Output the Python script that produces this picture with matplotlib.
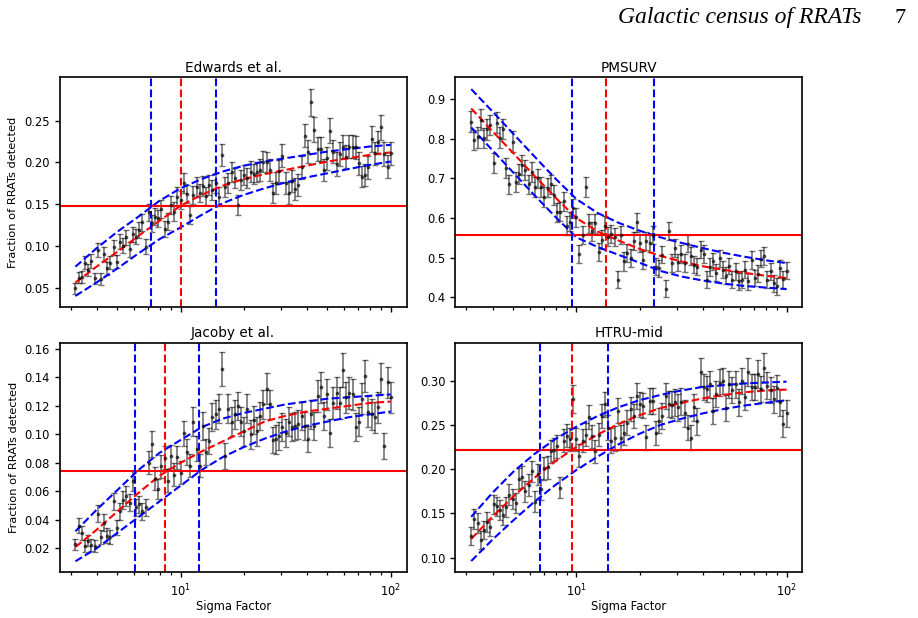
import matplotlib.pyplot as plt

# sigma factor grid (evenly spaced in log)
sigma = [3.162, 3.275, 3.391, 3.511, 3.636, 3.765, 3.899, 4.037, 4.181, 4.329,
         4.483, 4.642, 4.807, 4.977, 5.154, 5.337, 5.526, 5.722, 5.925, 6.136,
         6.353, 6.579, 6.813, 7.055, 7.305, 7.565, 7.833, 8.111, 8.399, 8.697,
         9.006, 9.326, 9.657, 10.00, 10.35, 10.72, 11.10, 11.50, 11.91, 12.33,
         12.77, 13.22, 13.69, 14.18, 14.68, 15.20, 15.74, 16.30, 16.88, 17.48,
         18.10, 18.74, 19.41, 20.09, 20.81, 21.54, 22.31, 23.10, 23.92, 24.77,
         25.65, 26.56, 27.50, 28.48, 29.49, 30.54, 31.62, 32.75, 33.91, 35.11,
         36.36, 37.65, 38.99, 40.37, 41.81, 43.29, 44.83, 46.42, 48.07, 49.77,
         51.54, 53.37, 55.26, 57.22, 59.25, 61.36, 63.53, 65.79, 68.13, 70.55,
         73.05, 75.65, 78.33, 81.11, 83.99, 86.97, 90.06, 93.26, 96.57, 100.0]

edwards = [0.049, 0.062, 0.063, 0.080, 0.071, 0.082, 0.061, 0.095, 0.060, 0.090,
           0.073, 0.080, 0.098, 0.081, 0.105, 0.100, 0.110, 0.096, 0.114, 0.111,
           0.119, 0.128, 0.099, 0.140, 0.127, 0.135, 0.133, 0.144, 0.120, 0.129,
           0.149, 0.141, 0.159, 0.155, 0.175, 0.162, 0.137, 0.161, 0.171, 0.163,
           0.172, 0.160, 0.173, 0.167, 0.175, 0.159, 0.209, 0.171, 0.175, 0.188,
           0.181, 0.149, 0.179, 0.185, 0.181, 0.189, 0.186, 0.188, 0.191, 0.201,
           0.200, 0.191, 0.163, 0.175, 0.190, 0.208, 0.175, 0.163, 0.178, 0.168,
           0.173, 0.194, 0.232, 0.213, 0.272, 0.239, 0.216, 0.216, 0.191, 0.205,
           0.238, 0.213, 0.198, 0.210, 0.219, 0.207, 0.219, 0.219, 0.218, 0.199,
           0.183, 0.185, 0.194, 0.228, 0.211, 0.224, 0.242, 0.210, 0.195, 0.211]
edwards_err = [0.007, 0.007, 0.007, 0.008, 0.007, 0.008, 0.007, 0.008, 0.007, 0.008,
               0.008, 0.008, 0.009, 0.008, 0.009, 0.009, 0.009, 0.009, 0.009, 0.009,
               0.010, 0.010, 0.009, 0.010, 0.010, 0.010, 0.010, 0.011, 0.010, 0.010,
               0.011, 0.011, 0.011, 0.011, 0.012, 0.011, 0.011, 0.011, 0.012, 0.011,
               0.012, 0.011, 0.012, 0.012, 0.012, 0.011, 0.013, 0.012, 0.012, 0.012,
               0.012, 0.012, 0.012, 0.012, 0.012, 0.013, 0.012, 0.012, 0.013, 0.013,
               0.013, 0.013, 0.012, 0.013, 0.013, 0.014, 0.013, 0.013, 0.013, 0.013,
               0.013, 0.014, 0.014, 0.014, 0.016, 0.015, 0.014, 0.014, 0.013, 0.014,
               0.015, 0.014, 0.014, 0.014, 0.014, 0.014, 0.014, 0.014, 0.014, 0.014,
               0.013, 0.013, 0.014, 0.015, 0.014, 0.014, 0.015, 0.014, 0.014, 0.014]

pmsurv = [0.844, 0.797, 0.804, 0.849, 0.802, 0.824, 0.835, 0.740, 0.841, 0.803,
          0.825, 0.726, 0.685, 0.793, 0.692, 0.711, 0.734, 0.722, 0.685, 0.716,
          0.679, 0.700, 0.679, 0.654, 0.677, 0.685, 0.658, 0.615, 0.616, 0.642,
          0.581, 0.591, 0.625, 0.602, 0.509, 0.557, 0.679, 0.587, 0.566, 0.587,
          0.515, 0.545, 0.580, 0.553, 0.559, 0.552, 0.444, 0.557, 0.490, 0.511,
          0.498, 0.541, 0.589, 0.536, 0.494, 0.541, 0.536, 0.557, 0.477, 0.473,
          0.507, 0.421, 0.567, 0.486, 0.524, 0.488, 0.509, 0.486, 0.535, 0.504,
          0.482, 0.477, 0.520, 0.509, 0.444, 0.476, 0.490, 0.462, 0.498, 0.469,
          0.454, 0.479, 0.444, 0.465, 0.440, 0.444, 0.469, 0.440, 0.494, 0.448,
          0.459, 0.497, 0.504, 0.444, 0.465, 0.435, 0.427, 0.473, 0.445, 0.467]
pmsurv_err = [0.026, 0.026, 0.026, 0.026, 0.026, 0.026, 0.026, 0.025, 0.026, 0.026,
              0.026, 0.025, 0.025, 0.026, 0.025, 0.025, 0.025, 0.025, 0.025, 0.025,
              0.025, 0.025, 0.025, 0.025, 0.025, 0.025, 0.025, 0.024, 0.024, 0.024,
              0.024, 0.024, 0.024, 0.024, 0.023, 0.024, 0.025, 0.024, 0.024, 0.024,
              0.023, 0.024, 0.024, 0.023, 0.023, 0.023, 0.022, 0.023, 0.023, 0.023,
              0.023, 0.023, 0.024, 0.023, 0.023, 0.023, 0.023, 0.023, 0.022, 0.022,
              0.022, 0.021, 0.023, 0.022, 0.022, 0.022, 0.022, 0.022, 0.022, 0.022,
              0.022, 0.022, 0.022, 0.022, 0.021, 0.022, 0.022, 0.021, 0.022, 0.021,
              0.021, 0.021, 0.021, 0.021, 0.021, 0.021, 0.021, 0.021, 0.022, 0.021,
              0.021, 0.022, 0.022, 0.021, 0.021, 0.021, 0.021, 0.021, 0.021, 0.021]

jacoby = [0.0228, 0.036, 0.031, 0.0216, 0.0254, 0.0224, 0.0216, 0.0442, 0.028, 0.038,
          0.029, 0.028, 0.053, 0.0346, 0.046, 0.054, 0.0565, 0.052, 0.067, 0.049,
          0.051, 0.046, 0.049, 0.080, 0.093, 0.069, 0.062, 0.0777, 0.0836, 0.0675,
          0.0847, 0.0718, 0.084, 0.073, 0.1007, 0.0878, 0.078, 0.109, 0.090, 0.078,
          0.106, 0.0878, 0.0953, 0.112, 0.114, 0.118, 0.146, 0.085, 0.118, 0.109,
          0.114, 0.120, 0.109, 0.102, 0.118, 0.100, 0.110, 0.102, 0.113, 0.121,
          0.132, 0.121, 0.0958, 0.0965, 0.099, 0.105, 0.101, 0.109, 0.105, 0.106,
          0.107, 0.113, 0.106, 0.0965, 0.114, 0.106, 0.127, 0.133, 0.113, 0.128,
          0.101, 0.122, 0.129, 0.122, 0.145, 0.126, 0.129, 0.128, 0.105, 0.109,
          0.125, 0.141, 0.116, 0.114, 0.112, 0.119, 0.139, 0.0918, 0.1365, 0.126]
jacoby_err = [0.004, 0.005, 0.005, 0.004, 0.004, 0.004, 0.004, 0.006, 0.005, 0.006,
              0.005, 0.005, 0.006, 0.005, 0.006, 0.006, 0.007, 0.006, 0.007, 0.006,
              0.006, 0.006, 0.006, 0.008, 0.009, 0.008, 0.007, 0.008, 0.008, 0.008,
              0.008, 0.008, 0.008, 0.008, 0.009, 0.009, 0.008, 0.010, 0.009, 0.008,
              0.010, 0.009, 0.009, 0.010, 0.010, 0.010, 0.012, 0.009, 0.010, 0.010,
              0.010, 0.010, 0.010, 0.010, 0.010, 0.010, 0.010, 0.010, 0.010, 0.010,
              0.011, 0.010, 0.009, 0.010, 0.010, 0.010, 0.010, 0.010, 0.010, 0.010,
              0.010, 0.010, 0.010, 0.009, 0.010, 0.010, 0.011, 0.011, 0.010, 0.011,
              0.010, 0.011, 0.011, 0.011, 0.012, 0.011, 0.011, 0.011, 0.010, 0.010,
              0.011, 0.011, 0.011, 0.011, 0.011, 0.011, 0.011, 0.009, 0.011, 0.011]

htru = [0.124, 0.1437, 0.139, 0.120, 0.131, 0.140, 0.134, 0.160, 0.158, 0.154,
        0.148, 0.157, 0.171, 0.166, 0.1615, 0.189, 0.191, 0.175, 0.182, 0.1976,
        0.163, 0.194, 0.177, 0.201, 0.202, 0.220, 0.222, 0.226, 0.179, 0.232,
        0.238, 0.2336, 0.279, 0.2336, 0.215, 0.232, 0.239, 0.259, 0.2374, 0.220,
        0.239, 0.260, 0.2735, 0.247, 0.232, 0.235, 0.266, 0.2355, 0.241, 0.2526,
        0.268, 0.260, 0.283, 0.2735, 0.2716, 0.236, 0.277, 0.277, 0.241, 0.255,
        0.260, 0.283, 0.2735, 0.273, 0.2755, 0.270, 0.2765, 0.263, 0.247, 0.2355,
        0.270, 0.254, 0.3096, 0.293, 0.2906, 0.296, 0.266, 0.285, 0.298, 0.300,
        0.269, 0.296, 0.2895, 0.296, 0.2755, 0.300, 0.282, 0.3096, 0.293, 0.293,
        0.3077, 0.2906, 0.315, 0.2944, 0.2895, 0.279, 0.2917, 0.2755, 0.2515, 0.263]
htru_err = [0.010, 0.011, 0.011, 0.010, 0.010, 0.011, 0.010, 0.011, 0.011, 0.011,
            0.011, 0.011, 0.012, 0.011, 0.011, 0.012, 0.012, 0.012, 0.012, 0.012,
            0.012, 0.012, 0.012, 0.013, 0.013, 0.013, 0.013, 0.013, 0.012, 0.013,
            0.013, 0.013, 0.016, 0.013, 0.013, 0.013, 0.013, 0.014, 0.013, 0.013,
            0.013, 0.014, 0.014, 0.014, 0.014, 0.014, 0.014, 0.014, 0.014, 0.014,
            0.014, 0.014, 0.015, 0.014, 0.014, 0.014, 0.015, 0.015, 0.014, 0.014,
            0.015, 0.015, 0.015, 0.015, 0.015, 0.015, 0.015, 0.015, 0.014, 0.014,
            0.015, 0.015, 0.016, 0.015, 0.015, 0.015, 0.015, 0.015, 0.015, 0.015,
            0.015, 0.015, 0.015, 0.015, 0.015, 0.015, 0.015, 0.016, 0.015, 0.015,
            0.016, 0.015, 0.016, 0.015, 0.015, 0.015, 0.015, 0.015, 0.015, 0.015]

# fitted curves and their bounds, read at a coarser log grid
fit_x = [3.162, 3.981, 5.012, 6.310, 7.943, 10.0, 12.59, 15.85,
         19.95, 25.12, 31.62, 39.81, 50.12, 63.10, 79.43, 100.0]

edwards_fit = [0.056, 0.075, 0.093, 0.112, 0.130, 0.148, 0.161, 0.172,
               0.180, 0.186, 0.191, 0.196, 0.201, 0.205, 0.209, 0.212]
edwards_hi = [0.075, 0.097, 0.117, 0.135, 0.154, 0.169, 0.180, 0.189,
              0.196, 0.201, 0.205, 0.209, 0.213, 0.216, 0.219, 0.221]
edwards_lo = [0.040, 0.056, 0.073, 0.091, 0.108, 0.122, 0.137, 0.151,
              0.161, 0.169, 0.176, 0.182, 0.187, 0.192, 0.197, 0.201]

pmsurv_fit = [0.877, 0.820, 0.764, 0.707, 0.652, 0.600, 0.566, 0.543,
              0.522, 0.504, 0.490, 0.478, 0.469, 0.461, 0.454, 0.448]
pmsurv_hi = [0.926, 0.870, 0.813, 0.756, 0.700, 0.648, 0.613, 0.588,
             0.568, 0.551, 0.537, 0.524, 0.512, 0.502, 0.493, 0.486]
pmsurv_lo = [0.829, 0.772, 0.715, 0.658, 0.603, 0.551, 0.527, 0.507,
             0.487, 0.466, 0.452, 0.442, 0.434, 0.428, 0.424, 0.420]

jacoby_fit = [0.021, 0.033, 0.046, 0.059, 0.071, 0.080, 0.088, 0.095,
              0.102, 0.109, 0.113, 0.116, 0.118, 0.120, 0.122, 0.123]
jacoby_hi = [0.032, 0.047, 0.061, 0.075, 0.087, 0.096, 0.105, 0.111,
             0.115, 0.118, 0.121, 0.123, 0.125, 0.126, 0.127, 0.128]
jacoby_lo = [0.011, 0.020, 0.031, 0.042, 0.053, 0.064, 0.075, 0.084,
             0.091, 0.097, 0.102, 0.106, 0.109, 0.112, 0.114, 0.116]

htru_fit = [0.121, 0.146, 0.169, 0.190, 0.209, 0.225, 0.239, 0.251,
            0.261, 0.269, 0.275, 0.280, 0.284, 0.287, 0.289, 0.290]
htru_hi = [0.146, 0.173, 0.197, 0.217, 0.234, 0.248, 0.260, 0.270,
           0.278, 0.284, 0.289, 0.293, 0.295, 0.297, 0.298, 0.299]
htru_lo = [0.096, 0.120, 0.142, 0.163, 0.182, 0.199, 0.214, 0.228,
           0.240, 0.250, 0.257, 0.263, 0.268, 0.272, 0.275, 0.278]

titles = ["Edwards et al.", "PMSURV", "Jacoby et al.", "HTRU-mid"]
fractions = [0.148, 0.556, 0.0741, 0.222]   # horizontal red line
sig_mid = [10.08, 13.9, 8.48, 9.5]          # red vertical line
sig_low = [7.26, 9.53, 6.1, 6.74]           # blue vertical lines
sig_high = [14.8, 23.3, 12.2, 14.1]
ylims = [(0.027, 0.302), (0.3755, 0.956), (0.0033, 0.1642), (0.0833, 0.343)]
yticks = [[0.05, 0.10, 0.15, 0.20, 0.25],
          [0.4, 0.5, 0.6, 0.7, 0.8, 0.9],
          [0.02, 0.04, 0.06, 0.08, 0.10, 0.12, 0.14, 0.16],
          [0.10, 0.15, 0.20, 0.25, 0.30]]

data = [edwards, pmsurv, jacoby, htru]
errs = [edwards_err, pmsurv_err, jacoby_err, htru_err]
fits = [edwards_fit, pmsurv_fit, jacoby_fit, htru_fit]
his = [edwards_hi, pmsurv_hi, jacoby_hi, htru_hi]
los = [edwards_lo, pmsurv_lo, jacoby_lo, htru_lo]

fig, axes = plt.subplots(2, 2, figsize=(9.18, 6.18), dpi=100)
fig.subplots_adjust(left=0.065, right=0.874, bottom=0.074, top=0.875,
                    wspace=0.141, hspace=0.157)

for k, ax in enumerate(axes.flat):
    ax.errorbar(sigma, data[k], yerr=errs[k], fmt='.', color='k', alpha=0.55,
                markersize=3.5, capsize=2.3, elinewidth=1.2, capthick=1.0)
    ax.plot(fit_x, fits[k], 'r--', lw=1.5)
    ax.plot(fit_x, his[k], 'b--', lw=1.5)
    ax.plot(fit_x, los[k], 'b--', lw=1.5)
    ax.axhline(fractions[k], color='r', lw=1.5)
    ax.axvline(sig_mid[k], color='r', ls='--', lw=1.5)
    ax.axvline(sig_low[k], color='b', ls='--', lw=1.5)
    ax.axvline(sig_high[k], color='b', ls='--', lw=1.5)
    ax.set_xscale('log')
    ax.set_xlim(10 ** 0.425, 10 ** 2.075)
    ax.set_ylim(*ylims[k])
    ax.set_yticks(yticks[k])
    ax.set_title(titles[k], fontsize=9.8, pad=4)
    for s in ax.spines.values():
        s.set_linewidth(1.2)
    ax.tick_params(which='major', labelsize=8.3, length=3.7, width=1.0)
    ax.tick_params(which='minor', length=2.4, width=0.9)
    if k < 2:
        ax.set_xticklabels([], minor=False)
    else:
        ax.set_xlabel("Sigma Factor", fontsize=8.3, labelpad=1)
    if k % 2 == 0:
        ax.set_ylabel("Fraction of RRATs detected", fontsize=8.2)

fig.text(0.673, 0.963, "Galactic census of RRATs", family="Liberation Serif",
         style="italic", fontsize=17, va="baseline")
fig.text(0.987, 0.963, "7", family="Liberation Serif", fontsize=16,
         va="baseline", ha="right")

plt.savefig("out.png", dpi=100)
